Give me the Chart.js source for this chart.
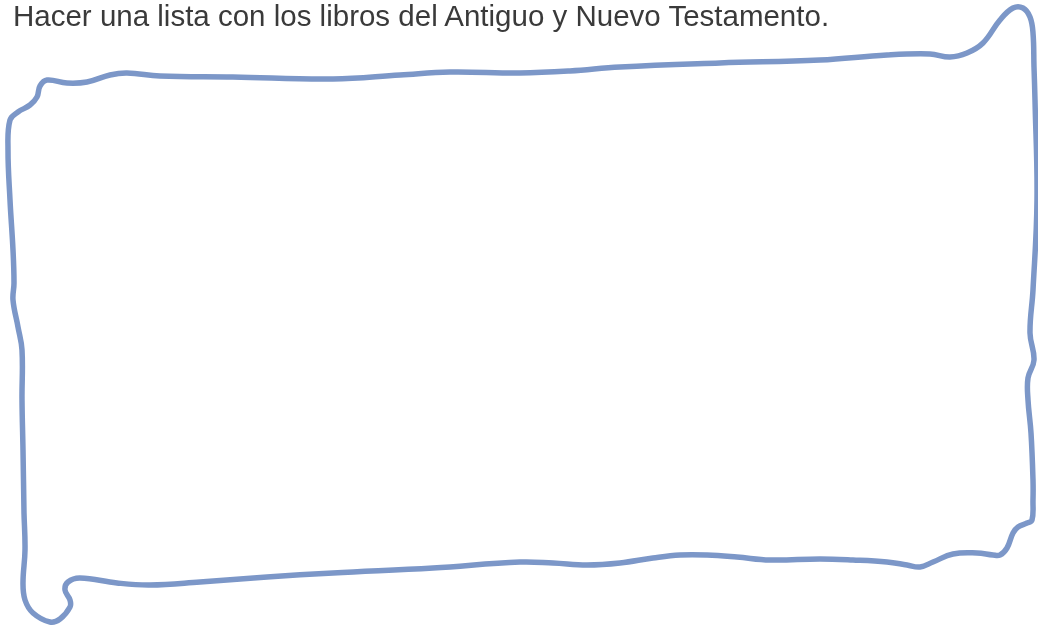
<!DOCTYPE html>
<html>
<head>
<meta charset="utf-8">
<script src="https://cdn.jsdelivr.net/npm/chart.js@4"></script>
<style>
  html, body { margin: 0; padding: 0; background: #ffffff; }
  #wrap { position: relative; width: 1038px; height: 625px; overflow: hidden; }
  #prompt {
    position: absolute; left: 13px; top: 1px;
    font-family: "Liberation Sans", Arial, sans-serif; font-size: 29.5px; line-height: 29.5px;
    color: #3a3a3a; white-space: nowrap; z-index: 2;
  }
  canvas { position: absolute; left: 0; top: 0; }
</style>
</head>
<body>
<div id="wrap">
  <div id="prompt"></div>
  <canvas id="c" width="1038" height="625"></canvas>
</div>
<script>
const promptText = "Hacer una lista con los libros del Antiguo y Nuevo Testamento.";

// Hand-drawn frame, traced clockwise (x, y in picture units; y grows downward)
const borderX = [24, 23, 22, 22, 18, 13, 14, 13, 10, 8, 10, 18, 30, 37, 40, 47, 67, 87, 110, 127, 160, 233, 333, 400, 450, 520,
  570, 620, 720, 820, 887, 930, 950, 967, 983, 1000, 1013, 1023, 1030, 1033, 1034, 1035, 1037, 1033, 1030, 1034, 1028, 1028, 1031, 1033, 1033,
  1032, 1027, 1018, 1013, 1007, 1000, 993, 977, 953, 933, 920, 907, 887, 853, 820, 770, 737, 707, 680, 653, 620, 587, 553, 520,
  433, 333, 267, 200, 150, 117, 80, 68, 65, 70, 70, 60, 50, 33, 25, 23, 25, 24];
const borderY = [513, 450, 400, 350, 327, 300, 283, 250, 200, 150, 120, 112, 105, 97, 86, 80, 83, 82, 75, 73, 76, 77, 79, 75, 72, 73,
  71, 67, 63, 60, 55, 54, 57, 53, 43, 20, 8, 8, 17, 33, 67, 100, 200, 290, 333, 360, 378, 400, 433, 480, 500,
  520, 523, 527, 533, 548, 555, 555, 553, 554, 562, 567, 565, 562, 560, 559, 560, 557, 555, 555, 558, 563, 565, 563, 562,
  568, 573, 577, 582, 585, 583, 578, 582, 590, 600, 607, 619, 622, 613, 600, 583, 550, 513];

const xRange = [0, 1038];
const yRange = [0, 625];

document.getElementById('prompt').textContent = promptText;

const points = borderX.map((x, i) => ({ x: x, y: borderY[i] }));

new Chart(document.getElementById('c'), {
  type: 'scatter',
  data: {
    datasets: [{
      label: 'marco',
      data: points,
      showLine: true,
      borderColor: '#7c97c8',
      borderWidth: 5.5,
      pointRadius: 0,
      tension: 0.4,
      fill: false,
      borderCapStyle: 'round',
      borderJoinStyle: 'round'
    }]
  },
  options: {
    responsive: false,
    animation: false,
    layout: { padding: 0 },
    plugins: { legend: { display: false }, tooltip: { enabled: false }, title: { display: false } },
    scales: {
      x: { type: 'linear', min: xRange[0], max: xRange[1], display: false },
      y: { type: 'linear', min: yRange[0], max: yRange[1], reverse: true, display: false }
    }
  }
});
</script>
</body>
</html>
